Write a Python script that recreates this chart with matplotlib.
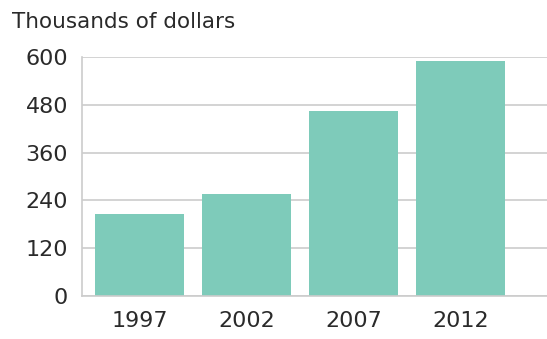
import matplotlib.pyplot as plt

# value of sales, thousands of dollars
years = ["1997", "2002", "2007", "2012"]
values = [205, 255, 465, 590]
yticks = [0, 120, 240, 360, 480, 600]

W, H = 547, 339
fig = plt.figure(figsize=(W / 100, H / 100), dpi=100)

# axes box in pixel terms
left, right, top, bottom = 82, 547, 57, 296
ax = fig.add_axes([left / W, 1 - bottom / H, (right - left) / W, (bottom - top) / H])

x = range(len(years))
ax.bar(x, values, width=0.83, color="#7ecbba", zorder=2)

ax.set_xlim(-0.537, 3.81)
ax.set_ylim(0, 600)
ax.set_yticks(yticks)
ax.set_xticks(list(x))
ax.set_xticklabels(years)

ax.grid(axis="y", color="#cccccc", linewidth=1.2, zorder=0)
ax.set_axisbelow(True)

for side in ["top", "right"]:
    ax.spines[side].set_visible(False)
ax.spines["left"].set_color("#cccccc")
ax.spines["bottom"].set_color("#cccccc")
ax.spines["left"].set_linewidth(1.2)
ax.spines["bottom"].set_linewidth(1.2)

ax.tick_params(axis="y", length=0, pad=10, labelsize=16, labelcolor="#2a2a2a")
ax.tick_params(axis="x", length=0, pad=11, labelsize=16, labelcolor="#2a2a2a")

fig.text(12 / W, 1 - 28 / H, "Thousands of dollars", fontsize=15.5,
         color="#2a2a2a", ha="left", va="baseline")

fig.savefig("out.png", dpi=100)
